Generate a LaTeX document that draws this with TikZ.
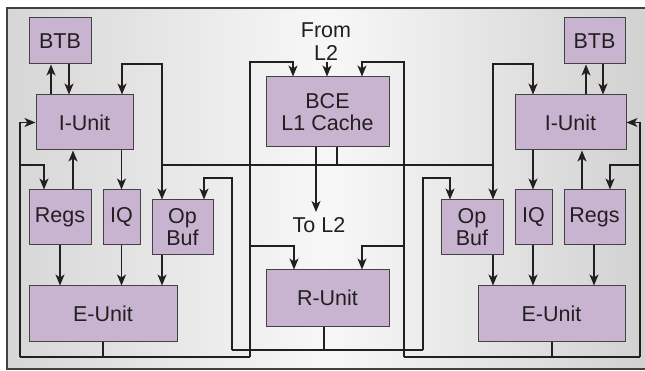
\documentclass[tikz,border=0pt]{standalone}
\usepackage{fontspec}
\setmainfont{Liberation Sans}
\usepackage{tikz}
\usetikzlibrary{arrows.meta}

\definecolor{unitfill}{RGB}{200,180,208}
\definecolor{wirecol}{RGB}{35,31,32}

\tikzset{
  unit/.style={draw=wirecol!85, fill=unitfill, line width=1pt, inner sep=0pt,
    align=center, text=wirecol, font=\fontsize{21.5}{22}\selectfont},
  lbl/.style={inner sep=0pt, align=center, text=wirecol, font=\fontsize{21.5}{23}\selectfont},
  wire/.style={draw=wirecol, line width=1.1pt},
  arr/.style={wire, -{Stealth[length=11pt,width=9pt,inset=3pt]}},
}

\begin{document}
\begin{tikzpicture}[x=1pt, y=-1pt]
  \useasboundingbox (0,0) rectangle (645,371);
  % frame with grey background
  \shade[left color=black!16, right color=black!18, middle color=black!3] (7,8) rectangle (648,369);
  \draw[line width=2.2pt, black!75] (7,8) rectangle (648,369);

  % left processor core
  \node[unit, minimum width=62pt, minimum height=46pt] (lBTB) at (60,41) {BTB};
  \node[unit, minimum width=97pt, minimum height=55pt] (lIU) at (84.5,122.5) {I-Unit};
  \node[unit, minimum width=62pt, minimum height=55pt] (lRegs) at (60,217.5) {Regs};
  \node[unit, minimum width=37pt, minimum height=55pt] (lIQ) at (121.5,217.5) {IQ};
  \node[unit, minimum width=61pt, minimum height=55pt] (lOB) at (182.5,227.5) {Op\\Buf};
  \node[unit, minimum width=148pt, minimum height=55pt] (lEU) at (103,313.5) {E-Unit};

  % shared cache and R-Unit
  \node[unit, minimum width=123pt, minimum height=70pt] (bce) at (327.5,112) {BCE\\L1 Cache};
  \node[unit, minimum width=123pt, minimum height=56pt] (rU) at (327.5,298) {R-Unit};
  \node[lbl] (froml2) at (326,41.5) {From\\L2};
  \node[lbl] (tol2) at (319,225) {To L2};

  % right processor core
  \node[unit, minimum width=61pt, minimum height=46pt] (rBTB) at (594.5,41) {BTB};
  \node[unit, minimum width=111pt, minimum height=55pt] (rIU) at (570.5,122.5) {I-Unit};
  \node[unit, minimum width=62pt, minimum height=55pt] (rOB) at (472,227.5) {Op\\Buf};
  \node[unit, minimum width=37pt, minimum height=55pt] (rIQ) at (533.5,217.5) {IQ};
  \node[unit, minimum width=61pt, minimum height=55pt] (rRegs) at (594.5,217.5) {Regs};
  \node[unit, minimum width=147pt, minimum height=55pt] (rEU) at (551.5,313.5) {E-Unit};

  % inside left core
  \draw[arr] (51,0 |- lIU.north) -- (51,0 |- lBTB.south);
  \draw[arr] (69,0 |- lBTB.south) -- (69,0 |- lIU.north);
  \draw[arr] (lIQ.north |- lIU.south) -- (lIQ.north);
  \draw[arr] (73,0 |- lRegs.north) -- (73,0 |- lIU.south);
  \draw[arr] (lRegs.south) -- (lRegs.south |- lEU.north);
  \draw[arr] (lIQ.south) -- (lIQ.south |- lEU.north);
  \draw[arr] (162,0 |- lOB.south) -- (162,0 |- lEU.north);

  % inside right core
  \draw[arr] (586,0 |- rIU.north) -- (586,0 |- rBTB.south);
  \draw[arr] (603,0 |- rBTB.south) -- (603,0 |- rIU.north);
  \draw[arr] (533,0 |- rIU.south) -- (533,0 |- rIQ.north);
  \draw[arr] (582,0 |- rRegs.north) -- (582,0 |- rIU.south);
  \draw[arr] (493,0 |- rOB.south) -- (493,0 |- rEU.north);
  \draw[arr] (533,0 |- rIQ.south) -- (533,0 |- rEU.north);
  \draw[arr] (594,0 |- rRegs.south) -- (594,0 |- rEU.north);

  % L1 cache to both cores
  \coordinate (busL) at (162,165);
  \coordinate (busR) at (493,165);
  \draw[wire] (busL) -- (busR);
  \draw[wire] (337,0 |- bce.south) -- (337,0 |- busL);
  \draw[arr] (busL) -- (162,64) -| (122,0 |- lIU.north);
  \draw[arr] (busL) -- (162,0 |- lOB.north);
  \draw[arr] (busR) -- (493,64) -| (533,0 |- rIU.north);
  \draw[arr] (busR) -- (493,0 |- rOB.north);
  \draw[arr] (327,62) -- (327,0 |- bce.north);
  \draw[arr] (316,0 |- bce.south) -- (316,212);

  % left E-Unit results
  \coordinate (lres) at (20,357);
  \draw[wire] (103,0 |- lEU.south) -- (103,357);
  \draw[wire] (lres) -- (250,357);
  \draw[arr] (lres) |- (lIU.west);
  \draw[arr] (20,165) -| (44,0 |- lRegs.north);
  \draw[arr] (250,357) |- (293,62) -- (293,0 |- bce.north);
  \draw[arr] (250,246) -| (294,0 |- rU.north);

  % right E-Unit results
  \coordinate (rres) at (640,357);
  \draw[wire] (552,0 |- rEU.south) -- (552,357);
  \draw[wire] (404,357) -- (rres);
  \draw[arr] (rres) |- (rIU.east);
  \draw[arr] (640,165) -| (610,0 |- rRegs.north);
  \draw[arr] (404,357) |- (362,62) -- (362,0 |- bce.north);
  \draw[arr] (404,246) -| (362,0 |- rU.north);

  % R-Unit to both operand buffers
  \draw[wire] (324,0 |- rU.south) -- (324,350);
  \draw[wire] (232,350) -- (423,350);
  \draw[arr] (232,350) |- (204,178) -- (204,0 |- lOB.north);
  \draw[arr] (423,350) |- (450,178) -- (450,0 |- rOB.north);
\end{tikzpicture}
\end{document}
